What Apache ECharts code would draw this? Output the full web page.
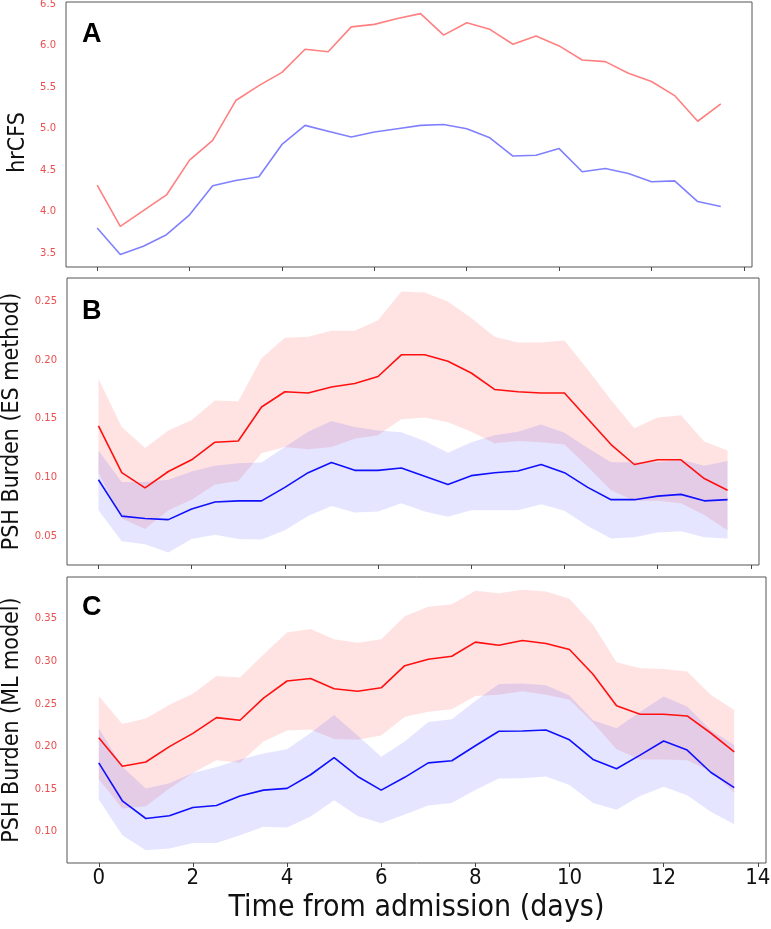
<!DOCTYPE html>
<html>
<head>
<meta charset="utf-8">
<script src="https://cdn.jsdelivr.net/npm/echarts@6/dist/echarts.min.js"></script>
<style>html,body{margin:0;padding:0;background:#fff}#c{width:771px;height:929px}</style>
</head>
<body>
<div id="c"></div>
<script>
// ---- data ----
const days = [0,0.5,1,1.5,2,2.5,3,3.5,4,4.5,5,5.5,6,6.5,7,7.5,8,8.5,9,9.5,10,10.5,11,11.5,12,12.5,13,13.5];
const xTicks = [0,2,4,6,8,10,12,14];

// Panel A: hrCFS
const aRed  = [4.32,3.82,4.01,4.20,4.62,4.86,5.34,5.52,5.68,5.96,5.93,6.23,6.26,6.33,6.39,6.13,6.28,6.20,6.02,6.12,6.00,5.83,5.81,5.67,5.57,5.40,5.09,5.30];
const aBlue = [3.80,3.48,3.58,3.72,3.96,4.31,4.375,4.42,4.81,5.04,4.97,4.90,4.96,5.00,5.04,5.05,5.00,4.89,4.67,4.68,4.76,4.48,4.52,4.46,4.36,4.37,4.12,4.06];
const aTicks = [3.5,4.0,4.5,5.0,5.5,6.0,6.5];

// Panel B: PSH burden (ES method)
const bRed      = [0.144,0.104,0.091,0.105,0.115,0.130,0.131,0.160,0.173,0.172,0.177,0.180,0.186,0.2045,0.2045,0.199,0.189,0.175,0.173,0.172,0.172,0.150,0.128,0.111,0.115,0.115,0.099,0.089];
const bRedUp    = [0.184,0.143,0.125,0.140,0.149,0.1655,0.165,0.2016,0.219,0.220,0.225,0.225,0.234,0.2585,0.2577,0.250,0.236,0.220,0.215,0.215,0.2167,0.192,0.166,0.142,0.151,0.153,0.1305,0.123];
const bRedLo    = [0.104,0.065,0.056,0.072,0.081,0.094,0.097,0.1205,0.126,0.124,0.126,0.133,0.136,0.1495,0.151,0.147,0.139,0.129,0.131,0.130,0.128,0.109,0.089,0.080,0.080,0.078,0.068,0.055];
const bBlue     = [0.098,0.067,0.065,0.064,0.073,0.079,0.080,0.080,0.0915,0.104,0.1126,0.106,0.106,0.108,0.101,0.094,0.1015,0.104,0.1055,0.111,0.104,0.0915,0.081,0.081,0.084,0.0855,0.080,0.081];
const bBlueUp   = [0.123,0.096,0.096,0.098,0.105,0.110,0.112,0.1126,0.126,0.139,0.148,0.143,0.140,0.1385,0.131,0.121,0.130,0.136,0.139,0.145,0.138,0.125,0.113,0.113,0.113,0.115,0.110,0.114];
const bBlueLo   = [0.072,0.0455,0.043,0.036,0.0475,0.051,0.0475,0.047,0.055,0.067,0.0756,0.070,0.071,0.078,0.071,0.0665,0.072,0.072,0.072,0.077,0.0716,0.0585,0.048,0.049,0.053,0.054,0.049,0.048];
const bTicks = [0.05,0.10,0.15,0.20,0.25];

// Panel C: PSH burden (ML model)
const cRed      = [0.2105,0.177,0.182,0.200,0.2156,0.234,0.231,0.257,0.277,0.280,0.268,0.265,0.269,0.295,0.3026,0.306,0.3226,0.319,0.3245,0.321,0.314,0.285,0.248,0.238,0.238,0.236,0.216,0.194];
const cRedUp    = [0.2595,0.2266,0.233,0.249,0.262,0.283,0.281,0.308,0.334,0.338,0.326,0.322,0.326,0.353,0.364,0.367,0.383,0.380,0.384,0.382,0.3735,0.343,0.299,0.292,0.291,0.288,0.261,0.243];
const cRedLo    = [0.162,0.1275,0.130,0.151,0.169,0.184,0.181,0.206,0.219,0.220,0.209,0.208,0.213,0.235,0.241,0.244,0.2595,0.261,0.265,0.261,0.255,0.228,0.197,0.185,0.185,0.184,0.171,0.146];
const cBlue     = [0.181,0.1365,0.1157,0.119,0.1286,0.131,0.142,0.149,0.151,0.167,0.187,0.165,0.149,0.164,0.181,0.1835,0.201,0.218,0.2184,0.2195,0.208,0.185,0.174,0.190,0.2066,0.196,0.170,0.152];
const cBlueUp   = [0.2215,0.1764,0.151,0.157,0.169,0.176,0.185,0.192,0.197,0.216,0.237,0.213,0.188,0.206,0.229,0.232,0.2536,0.2736,0.274,0.272,0.260,0.231,0.2215,0.241,0.2587,0.247,0.2195,0.202];
const cBlueLo   = [0.138,0.096,0.0785,0.0805,0.087,0.087,0.096,0.106,0.105,0.118,0.137,0.1185,0.110,0.1204,0.131,0.134,0.149,0.1627,0.163,0.165,0.155,0.134,0.126,0.142,0.153,0.143,0.1235,0.109];
const cTicks = [0.10,0.15,0.20,0.25,0.30,0.35];

// ---- build ----
const NARROW = '"Liberation Sans Narrow", "DejaVu Sans Condensed", "Liberation Sans", sans-serif';
const pairs = arr => arr.map((v, i) => [days[i], v]);

const grids = [
  {left: 66, top: 2,   width: 686, height: 265},
  {left: 67, top: 278, width: 692, height: 287},
  {left: 67, top: 577, width: 699, height: 286}
].map(g => Object.assign({show: true, borderColor: '#555', borderWidth: 1, backgroundColor: 'transparent',
                          containLabel: false, outerBoundsMode: 'none'}, g));

const xAxes = [0,1,2].map(i => ({
  type: 'value', gridIndex: i, min: -0.675, max: 14.175,
  splitLine: {show: false},
  axisLine: {show: false},
  axisTick: {show: true, customValues: xTicks, length: 4, lineStyle: {color: '#444', width: 1}},
  axisLabel: {show: i === 2, customValues: xTicks, fontFamily: NARROW, fontSize: 22, color: '#111', margin: 4},
  name: i === 2 ? 'Time from admission (days)' : '',
  nameLocation: 'middle', nameGap: 30,
  nameTextStyle: {fontFamily: NARROW, fontSize: 30, color: '#111'}
}));

function yAx(i, min, max, ticks, dec, name, shift) {
  return {
    type: 'value', gridIndex: i, min: min, max: max,
    splitLine: {show: false}, axisLine: {show: false}, axisTick: {show: false},
    axisLabel: {customValues: ticks, formatter: v => v.toFixed(dec), fontFamily: 'DejaVu Sans', fontSize: 10, color: '#eb4f4f', margin: 10},
    name: name, nameLocation: 'middle', nameRotate: 90, nameGap: 36,
    nameTextStyle: {fontFamily: NARROW, fontSize: 23, color: '#111', padding: [0, shift, 0, 0]}
  };
}
const yAxes = [
  yAx(0, 3.33, 6.53, aTicks, 1, 'hrCFS', 16),
  yAx(1, 0.0253, 0.270, bTicks, 2, 'PSH Burden (ES method)', 0),
  yAx(2, 0.0635, 0.399, cTicks, 2, 'PSH Burden (ML model)', 0)
];

function line(idx, data, color, w) {
  return {type: 'line', xAxisIndex: idx, yAxisIndex: idx, data: pairs(data), showSymbol: false, symbol: 'none',
          lineStyle: {color: color, width: w}, z: 5, silent: true};
}
function band(idx, up, lo, color) {
  return {
    type: 'custom', xAxisIndex: idx, yAxisIndex: idx, silent: true, z: 2,
    data: [[days[0], lo[0]]],
    renderItem: function (params, api) {
      const pts = [];
      for (let i = 0; i < days.length; i++) pts.push(api.coord([days[i], up[i]]));
      for (let i = days.length - 1; i >= 0; i--) pts.push(api.coord([days[i], lo[i]]));
      return {type: 'polygon', shape: {points: pts}, style: {fill: color, stroke: null}};
    }
  };
}
const RBAND = 'rgba(255,40,40,0.13)';
const BBAND = 'rgba(40,40,255,0.12)';

const series = [
  line(0, aRed, '#ff8080', 1.6),
  line(0, aBlue, '#8080ff', 1.6),
  band(1, bRedUp, bRedLo, RBAND),
  band(1, bBlueUp, bBlueLo, BBAND),
  line(1, bRed, '#ff1010', 1.6),
  line(1, bBlue, '#1010ff', 1.6),
  band(2, cRedUp, cRedLo, RBAND),
  band(2, cBlueUp, cBlueLo, BBAND),
  line(2, cRed, '#ff1010', 1.6),
  line(2, cBlue, '#1010ff', 1.6)
];

const letterStyle = {fontFamily: '"Liberation Sans", Arial, sans-serif', fontWeight: 'bold', fontSize: 27, fill: '#000'};
const graphic = [
  {type: 'text', left: 82, top: 21, style: Object.assign({text: 'A'}, letterStyle)},
  {type: 'text', left: 82, top: 298, style: Object.assign({text: 'B'}, letterStyle)},
  {type: 'text', left: 82, top: 594, style: Object.assign({text: 'C'}, letterStyle)}
];

const chart = echarts.init(document.getElementById('c'), null, {renderer: 'canvas'});
chart.setOption({
  animation: false,
  backgroundColor: '#fff',
  grid: grids, xAxis: xAxes, yAxis: yAxes, series: series, graphic: graphic
});
</script>
</body>
</html>
